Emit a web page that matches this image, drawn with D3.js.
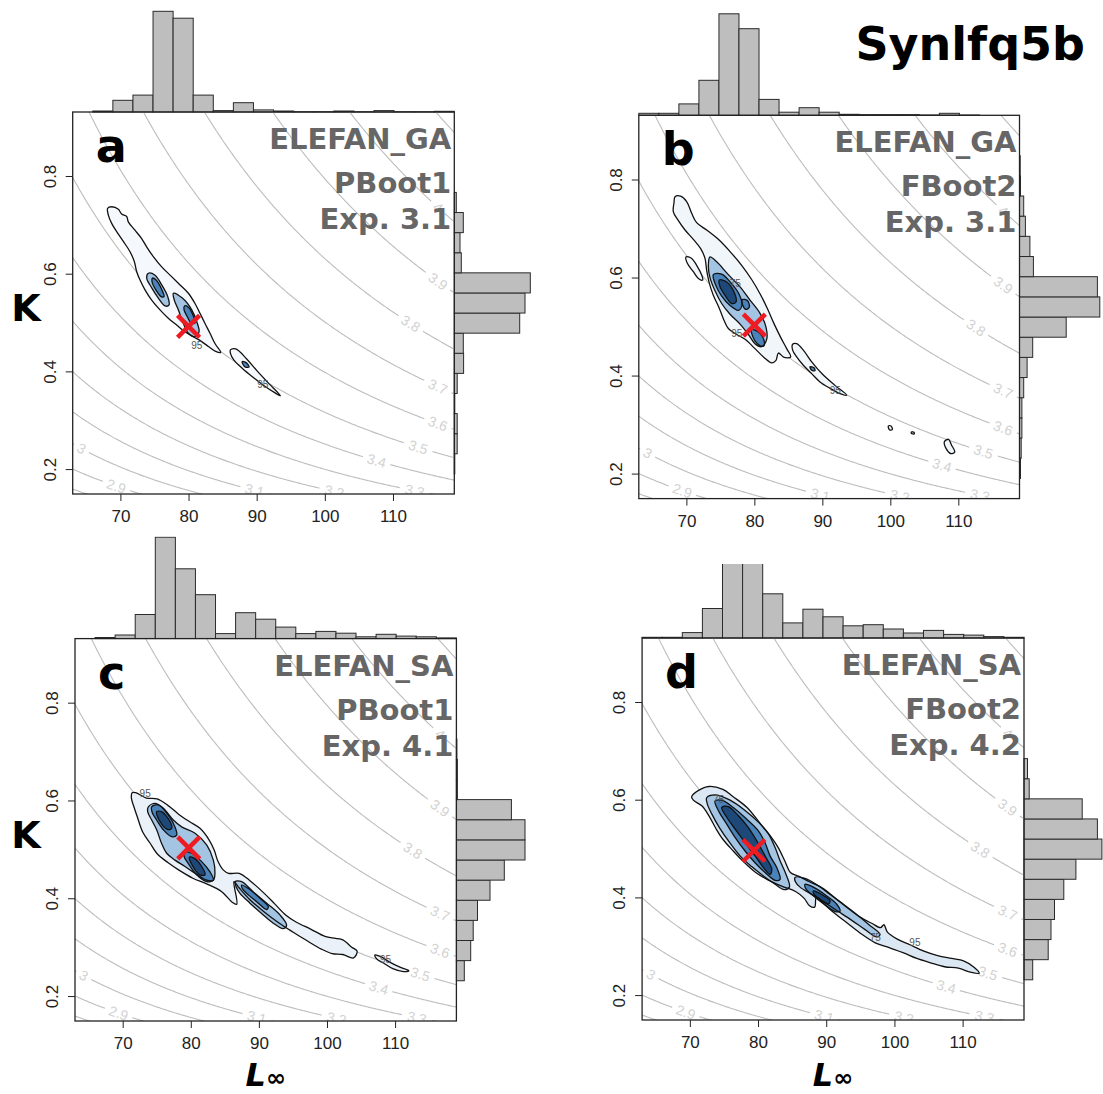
<!DOCTYPE html>
<html>
<head>
<meta charset="utf-8">
<script src="https://cdn.jsdelivr.net/npm/d3@7"></script>
<style>
  body { margin: 0; background: #fff; }
</style>
</head>
<body>
<div id="chart-area"></div>
<script>
/*
*    Synlfq5b - bootstrap Linf / K density panels
*/

// ---- data ----
var panelLetters = ["a", "b", "c", "d"];
var methods = ["ELEFAN_GA", "ELEFAN_GA", "ELEFAN_SA", "ELEFAN_SA"];
var boots = ["PBoot1", "FBoot2", "PBoot1", "FBoot2"];
var experiments = ["Exp. 3.1", "Exp. 3.1", "Exp. 4.1", "Exp. 4.2"];

var linfTicks = [70, 80, 90, 100, 110];
var kTicks = [0.2, 0.4, 0.6, 0.8];

// iso-phi' levels and where their labels sit (Linf)
var phiLevels = [2.8, 2.9, 3.0, 3.1, 3.2, 3.3, 3.4, 3.5, 3.6, 3.7, 3.8, 3.9, 4.0, 4.1];
var phiLabelLinf = [null, 69.4, 64.3, 89.7, 101.4, 113.2, 107.6, 113.7, 116.6, 116.6, 112.6, 116.6, 116.6, null];

// best estimate (red cross)
var bestLinf = [80.0, 80.0, 79.7, 79.4];
var bestK = [0.492, 0.503, 0.503, 0.496];

// marginal histograms, 19 bins over the axis ranges
var linfCounts_a = [0, 1, 11.7, 16.9, 100.7, 93.8, 16.9, 1.4, 9.3, 2.1, 1, 0.3, 0.3, 1, 0.3, 1.4, 0.3, 0.3, 0.7];
var linfCounts_b = [2, 2, 11.4, 35, 101.5, 86.6, 15.9, 3.1, 7.6, 3.1, 1, 0.7, 0.7, 0.7, 0.3, 2, 0.3, 0, 0];
var linfCounts_c = [0, 1.1, 3.6, 24.1, 101.4, 69.8, 43.9, 5, 25.9, 19.4, 11.5, 5, 7.2, 5.4, 1.8, 4.3, 2.5, 1.8, 0.7];
var linfCounts_d = [0.7, 0.7, 5.4, 29.5, 95, 92, 44.2, 15.1, 28.8, 21.2, 12.2, 13.3, 9, 5, 7.6, 3.6, 2.9, 1.4, 0.7];

// K bins from lowest to highest
var kCounts_a = [0, 0.5, 2.9, 2.9, 0.5, 2.9, 9.3, 9, 65.4, 70.7, 76, 7, 5.7, 9, 2, 0, 0, 0, 0];
var kCounts_b = [0, 1, 1.7, 2.4, 2.4, 4.2, 7.6, 13.2, 46.7, 80.3, 77.9, 13.9, 10.4, 5.9, 4.2, 1, 0.7, 0, 0];
var kCounts_c = [0, 0, 7.9, 14.3, 16.8, 21.1, 33.6, 47.9, 68.6, 68.6, 55, 1, 1, 0.5, 0, 0, 0, 0, 0];
var kCounts_d = [0, 0, 8.7, 24.2, 27, 30.5, 39.8, 51.9, 77.9, 73.4, 58.2, 5.2, 3.5, 0, 0, 0, 0, 0, 0];

// density contours: [level %, [[Linf, K], ...]]
var contours_a = [
  [95, [[68.13,0.734],[68.72,0.737],[69.70,0.732],[70.18,0.722],[70.92,0.717],[71.16,0.706],[72.14,0.689],[73.12,0.672],[73.85,0.655],[74.83,0.635],[76.06,0.614],[77.52,0.594],[78.75,0.577],[79.97,0.560],[80.95,0.539],[81.68,0.519],[82.42,0.498],[83.15,0.478],[83.88,0.457],[84.72,0.439],[83.98,0.441],[82.91,0.451],[81.93,0.461],[80.70,0.471],[79.48,0.481],[78.26,0.495],[77.03,0.509],[75.81,0.526],[74.59,0.546],[73.61,0.567],[72.88,0.587],[72.39,0.604],[72.04,0.625],[71.41,0.645],[70.43,0.666],[69.45,0.686],[68.72,0.703],[68.23,0.720]]],
  [95, [[86.15,0.444],[86.93,0.446],[88.50,0.426],[90.06,0.401],[91.66,0.377],[93.49,0.350],[92.70,0.356],[91.13,0.370],[89.56,0.387],[87.99,0.405],[86.66,0.423],[86.15,0.437]]],
  [75, [[74.10,0.601],[75.08,0.597],[76.07,0.577],[76.95,0.553],[77.14,0.536],[76.55,0.534],[75.57,0.550],[74.60,0.571],[73.86,0.591]]],
  [75, [[77.77,0.560],[79.09,0.550],[80.47,0.526],[81.20,0.502],[81.54,0.481],[80.95,0.471],[79.97,0.478],[79.24,0.498],[78.50,0.526],[77.91,0.546]]],
  [50, [[74.72,0.591],[75.24,0.587],[76.12,0.566],[76.41,0.553],[75.97,0.553],[75.24,0.566],[74.65,0.583]]],
  [50, [[79.41,0.534],[79.93,0.532],[80.66,0.515],[80.95,0.499],[80.37,0.499],[79.78,0.513],[79.34,0.526]]],
  [50, [[87.86,0.420],[88.45,0.418],[88.89,0.409],[88.30,0.409]]]
];

var contours_b = [
  [95, [[68.33,0.765],[69.16,0.766],[70.04,0.755],[70.78,0.731],[71.51,0.712],[72.98,0.697],[74.70,0.678],[76.42,0.653],[78.13,0.625],[79.60,0.596],[80.83,0.567],[81.91,0.537],[82.89,0.506],[83.87,0.478],[84.75,0.455],[85.34,0.438],[84.36,0.437],[83.53,0.446],[83.18,0.431],[82.55,0.426],[81.42,0.437],[80.09,0.455],[78.62,0.474],[77.15,0.486],[76.17,0.496],[75.53,0.513],[74.85,0.537],[73.96,0.564],[73.38,0.588],[72.98,0.615],[72.74,0.639],[72.10,0.659],[71.02,0.678],[69.80,0.697],[68.82,0.716],[68.08,0.734],[68.18,0.753]]],
  [95, [[69.94,0.642],[70.78,0.639],[71.51,0.625],[72.25,0.605],[72.40,0.595],[71.76,0.598],[71.02,0.612],[70.14,0.629]]],
  [95, [[85.63,0.464],[86.22,0.465],[87.20,0.452],[88.43,0.428],[90.14,0.401],[91.86,0.380],[93.58,0.360],[92.60,0.363],[91.13,0.374],[89.65,0.387],[88.43,0.404],[87.20,0.421],[86.22,0.438],[85.63,0.452]]],
  [95, [[99.7,0.297],[100.1,0.297],[100.3,0.290],[99.9,0.289]]],
  [95, [[103.1,0.285],[103.5,0.284],[103.5,0.281],[103.1,0.282]]],
  [95, [[107.95,0.265],[108.56,0.270],[108.97,0.259],[109.47,0.244],[108.87,0.241],[108.21,0.251]]],
  [75, [[73.47,0.642],[74.46,0.632],[76.17,0.606],[77.89,0.581],[79.36,0.554],[80.83,0.527],[81.71,0.499],[81.81,0.474],[81.07,0.459],[80.09,0.465],[79.11,0.484],[77.89,0.505],[76.42,0.525],[75.19,0.547],[74.21,0.573],[73.47,0.600],[73.23,0.623]]],
  [50, [[73.96,0.606],[75.19,0.607],[76.56,0.589],[77.79,0.565],[78.18,0.544],[77.64,0.533],[76.42,0.543],[75.19,0.562],[74.36,0.583]]],
  [50, [[78.23,0.555],[78.97,0.553],[79.26,0.540],[78.77,0.535],[78.28,0.544]]],
  [50, [[79.60,0.494],[80.58,0.489],[81.42,0.472],[81.32,0.460],[80.44,0.465],[79.75,0.480]]],
  [50, [[88.18,0.418],[88.77,0.416],[88.92,0.410],[88.43,0.411]]],
  [25, [[74.85,0.595],[75.93,0.591],[77.00,0.571],[77.30,0.550],[76.66,0.547],[75.68,0.564],[74.95,0.581]]]
];

var contours_c = [
  [95, [[71.39,0.616],[71.91,0.616],[73.49,0.605],[75.06,0.603],[76.63,0.590],[78.21,0.572],[79.78,0.557],[81.35,0.543],[82.66,0.520],[83.45,0.498],[83.97,0.476],[84.76,0.458],[85.55,0.451],[87.12,0.451],[88.69,0.436],[90.79,0.410],[92.36,0.388],[93.93,0.366],[95.51,0.351],[97.60,0.337],[99.70,0.322],[101.27,0.318],[102.32,0.315],[103.63,0.300],[104.42,0.292],[103.90,0.278],[102.32,0.285],[100.75,0.287],[99.18,0.296],[97.08,0.313],[94.98,0.331],[92.89,0.350],[90.79,0.372],[88.69,0.397],[87.12,0.421],[86.33,0.434],[86.75,0.388],[86.07,0.392],[84.50,0.414],[82.40,0.429],[80.30,0.441],[78.21,0.458],[76.63,0.473],[75.06,0.491],[74.01,0.513],[72.96,0.535],[72.18,0.565],[71.65,0.587],[71.28,0.605]]],
  [95, [[107.04,0.284],[107.83,0.281],[109.14,0.270],[110.71,0.259],[112.02,0.252],[111.24,0.250],[109.66,0.256],[108.35,0.267],[107.30,0.276]]],
  [75, [[73.77,0.587],[74.75,0.594],[75.97,0.584],[77.44,0.560],[78.66,0.546],[80.62,0.533],[82.33,0.509],[83.31,0.478],[83.55,0.451],[83.31,0.437],[82.33,0.437],[80.62,0.451],[79.15,0.465],[77.68,0.478],[76.46,0.492],[75.72,0.512],[74.99,0.540],[74.26,0.560],[73.67,0.577]]],
  [75, [[86.49,0.434],[87.47,0.434],[89.18,0.413],[91.14,0.390],[93.09,0.366],[94.07,0.345],[93.58,0.338],[92.12,0.349],[90.40,0.369],[88.69,0.390],[87.22,0.410],[86.64,0.424]]],
  [50, [[74.26,0.587],[75.23,0.591],[76.70,0.570],[77.68,0.546],[77.93,0.529],[77.19,0.526],[75.97,0.540],[74.99,0.560],[74.35,0.575]]],
  [50, [[79.15,0.495],[80.13,0.492],[81.60,0.475],[82.82,0.454],[83.31,0.437],[82.33,0.434],[80.86,0.448],[79.64,0.471],[79.00,0.486]]],
  [50, [[87.47,0.427],[88.45,0.420],[90.16,0.400],[91.38,0.383],[91.14,0.377],[89.67,0.393],[88.20,0.410],[87.57,0.420]]],
  [25, [[74.99,0.577],[75.72,0.577],[76.95,0.557],[77.19,0.543],[76.56,0.541],[75.48,0.557]]],
  [25, [[79.79,0.484],[80.47,0.482],[81.60,0.465],[82.09,0.448],[81.35,0.448],[80.27,0.466]]]
];

var contours_d = [
  [95, [[70.26,0.606],[71.28,0.619],[72.80,0.627],[74.84,0.621],[76.36,0.606],[78.39,0.584],[80.17,0.554],[81.69,0.528],[82.96,0.502],[83.98,0.473],[84.74,0.451],[86.01,0.443],[87.54,0.432],[89.57,0.418],[91.60,0.395],[93.63,0.373],[95.16,0.358],[96.68,0.347],[97.95,0.338],[98.46,0.344],[98.97,0.329],[100.49,0.314],[102.27,0.303],[104.30,0.290],[106.33,0.281],[108.36,0.275],[110.14,0.270],[111.67,0.257],[112.43,0.245],[111.16,0.247],[109.38,0.255],[107.35,0.258],[105.32,0.266],[103.28,0.275],[101.25,0.287],[99.22,0.297],[97.19,0.307],[95.16,0.325],[93.12,0.347],[91.09,0.369],[89.57,0.388],[88.55,0.400],[88.30,0.380],[87.54,0.383],[86.77,0.398],[85.50,0.412],[83.47,0.423],[81.44,0.436],[79.66,0.451],[77.88,0.473],[76.36,0.495],[74.84,0.519],[73.82,0.541],[72.80,0.567],[71.79,0.587],[70.52,0.599]]],
  [75, [[72.47,0.604],[73.69,0.610],[75.90,0.599],[78.10,0.578],[80.05,0.554],[81.52,0.530],[82.50,0.502],[83.23,0.475],[84.11,0.447],[84.60,0.421],[83.82,0.416],[82.50,0.427],[80.79,0.444],[79.07,0.463],[77.36,0.485],[75.80,0.513],[74.33,0.543],[73.21,0.571],[72.57,0.591]]],
  [75, [[85.43,0.441],[86.90,0.439],[88.61,0.426],[90.57,0.406],[92.52,0.386],[94.48,0.365],[96.19,0.345],[97.90,0.324],[97.41,0.319],[95.70,0.334],[93.74,0.353],[91.79,0.371],[89.83,0.389],[87.88,0.406],[86.16,0.421],[85.48,0.432]]],
  [50, [[73.69,0.597],[74.67,0.599],[76.38,0.584],[78.34,0.560],[80.05,0.536],[81.03,0.512],[81.76,0.485],[82.74,0.461],[83.23,0.437],[82.50,0.435],[81.03,0.451],[79.56,0.471],[78.10,0.495],[76.63,0.523],[75.41,0.550],[74.33,0.574]]],
  [50, [[86.90,0.427],[88.12,0.421],[90.08,0.403],[91.54,0.386],[92.03,0.372],[91.30,0.371],[89.59,0.387],[87.88,0.406],[87.04,0.417]]],
  [25, [[74.67,0.584],[75.65,0.586],[77.12,0.567],[78.58,0.543],[79.81,0.516],[81.03,0.485],[82.01,0.458],[81.76,0.447],[80.79,0.461],[79.56,0.485],[78.10,0.512],[76.63,0.540],[75.41,0.564]]],
  [25, [[88.12,0.413],[89.34,0.406],[90.57,0.393],[90.32,0.387],[89.10,0.396],[88.22,0.406]]]
];

// contour level labels: [text, Linf, K]
var clabels_a = [["95", 81.2, 0.454], ["95", 90.9, 0.373]];
var clabels_b = [["95", 77.4, 0.486], ["95", 91.9, 0.370], ["75", 77.2, 0.588]];
var clabels_c = [["95", 73.3, 0.615], ["95", 108.6, 0.274]];
var clabels_d = [["95", 103.0, 0.307], ["75", 97.2, 0.317], ["75", 74.2, 0.600]];

// ---- layout ----
var width = 1103;
var height = 1094;
var LINF_DOMAIN = [63, 119];
var K_DOMAIN = [0.149, 0.931];
var N_BINS = 19;

var boxes = [
  {x: 72.7,  y: 112,   w: 381.6, h: 382,   histClip: 112},
  {x: 638.8, y: 115.3, w: 380.7, h: 383.3, histClip: 115},
  {x: 75,    y: 638.6, w: 381.4, h: 382.4, histClip: 102},
  {x: 642.1, y: 638,   w: 381.9, h: 382,   histClip: 74}
];

var linfCounts = [linfCounts_a, linfCounts_b, linfCounts_c, linfCounts_d];
var kCounts = [kCounts_a, kCounts_b, kCounts_c, kCounts_d];
var contours = [contours_a, contours_b, contours_c, contours_d];
var clabels = [clabels_a, clabels_b, clabels_c, clabels_d];

var outerFill = ["#f5f8fc", "#f1f6fb", "#eaf1f9", "#dbe8f4"];
var levelFill = {75: "#a3c4e3", 50: "#4a82ba", 25: "#1d4877"};

var fontBold = "'DejaVu Sans', 'Liberation Sans', sans-serif";
var fontAxis = "'Liberation Sans', Arial, Helvetica, sans-serif";

var svg = d3.select("#chart-area")
  .append("svg")
  .attr("width", width)
  .attr("height", height);

svg.append("rect").attr("width", width).attr("height", height).attr("fill", "#fff");

var countScale = d3.scaleLinear().domain([0, 100]).range([0, 100]);

panelLetters.forEach((letter, i) => {
  var b = boxes[i];
  var g = svg.append("g")
    .attr("transform", "translate(" + b.x + ", " + b.y + ")");

  var x = d3.scaleLinear().domain(LINF_DOMAIN).range([0, b.w]);
  var y = d3.scaleLinear().domain(K_DOMAIN).range([b.h, 0]);

  var defs = g.append("defs");
  defs.append("clipPath").attr("id", "plot-" + letter)
    .append("rect").attr("width", b.w).attr("height", b.h);
  defs.append("clipPath").attr("id", "hist-" + letter)
    .append("rect").attr("x", -2).attr("y", -b.histClip).attr("width", b.w + 4).attr("height", b.histClip + 1);

  // top histogram (Linf)
  var binW = (LINF_DOMAIN[1] - LINF_DOMAIN[0]) / N_BINS;
  g.append("g")
    .attr("clip-path", "url(#hist-" + letter + ")")
    .selectAll("rect")
    .data(linfCounts[i])
    .enter()
    .append("rect")
      .attr("x", (d, k) => x(LINF_DOMAIN[0] + k * binW))
      .attr("width", (d, k) => x(LINF_DOMAIN[0] + (k + 1) * binW) - x(LINF_DOMAIN[0] + k * binW))
      .attr("y", (d) => -countScale(d))
      .attr("height", (d) => countScale(d))
      .attr("fill", "#bebebe")
      .attr("stroke", "#2a2a2a")
      .attr("stroke-width", 1);

  // right histogram (K)
  var kBinW = (K_DOMAIN[1] - K_DOMAIN[0]) / N_BINS;
  g.append("g")
    .selectAll("rect")
    .data(kCounts[i])
    .enter()
    .append("rect")
      .attr("x", b.w)
      .attr("y", (d, k) => y(K_DOMAIN[0] + (k + 1) * kBinW))
      .attr("height", (d, k) => y(K_DOMAIN[0] + k * kBinW) - y(K_DOMAIN[0] + (k + 1) * kBinW))
      .attr("width", (d) => countScale(d))
      .attr("fill", "#bebebe")
      .attr("stroke", "#2a2a2a")
      .attr("stroke-width", 1);

  var plot = g.append("g").attr("clip-path", "url(#plot-" + letter + ")");

  // iso growth performance lines: phi' = log10(K) + 2 log10(Linf)
  var grid = d3.range(LINF_DOMAIN[0] - 1, LINF_DOMAIN[1] + 1.01, 0.2);
  phiLevels.forEach((phi, j) => {
    var kOf = (L) => Math.pow(10, phi) / (L * L);
    var labL = phiLabelLinf[j];
    var lx = null, ly = null;
    if (labL !== null) {
      lx = x(labL);
      ly = y(kOf(labL));
    }
    var gap = String(+phi.toFixed(1)).length > 1 ? 14 : 8;
    var line = d3.line()
      .x((L) => x(L))
      .y((L) => y(kOf(L)))
      .defined((L) => lx === null || Math.hypot(x(L) - lx, y(kOf(L)) - ly) > gap);
    plot.append("path")
      .attr("d", line(grid))
      .attr("fill", "none")
      .attr("stroke", "#bdbdbd")
      .attr("stroke-width", 1.1);
    if (labL !== null) {
      var ang = Math.atan2(y(kOf(labL + 0.5)) - y(kOf(labL - 0.5)), x(labL + 0.5) - x(labL - 0.5)) * 180 / Math.PI;
      plot.append("text")
        .attr("transform", "translate(" + lx + "," + ly + ") rotate(" + ang + ")")
        .attr("text-anchor", "middle")
        .attr("dy", "0.35em")
        .attr("font-family", fontAxis)
        .attr("font-size", "14px")
        .attr("fill", "#d2d2d2")
        .text(String(+phi.toFixed(1)));
    }
  });

  // density regions
  var blob = d3.line()
    .x((d) => x(d[0]))
    .y((d) => y(d[1]))
    .curve(d3.curveCatmullRomClosed.alpha(0.5));

  [95, 75, 50, 25].forEach((lev) => {
    contours[i].filter((c) => c[0] === lev).forEach((c) => {
      plot.append("path")
        .attr("d", blob(c[1]))
        .attr("fill", lev === 95 ? outerFill[i] : levelFill[lev])
        .attr("stroke", "none");
    });
  });
  contours[i].forEach((c) => {
    plot.append("path")
      .attr("d", blob(c[1]))
      .attr("fill", "none")
      .attr("stroke", "#111")
      .attr("stroke-width", 1.3);
  });

  clabels[i].forEach((c) => {
    plot.append("text")
      .attr("x", x(c[1]))
      .attr("y", y(c[2]))
      .attr("text-anchor", "middle")
      .attr("dy", "0.35em")
      .attr("font-family", fontAxis)
      .attr("font-size", "10px")
      .attr("fill", "#555")
      .text(c[0]);
  });

  // red cross
  var cx = x(bestLinf[i]), cy = y(bestK[i]), r = 11;
  [[-1, -1, 1, 1], [-1, 1, 1, -1]].forEach((s) => {
    plot.append("line")
      .attr("x1", cx + s[0] * r).attr("y1", cy + s[1] * r)
      .attr("x2", cx + s[2] * r).attr("y2", cy + s[3] * r)
      .attr("stroke", "#ee1c22")
      .attr("stroke-width", 4.5);
  });

  // frame
  g.append("rect")
    .attr("width", b.w)
    .attr("height", b.h)
    .attr("fill", "none")
    .attr("stroke", "#222")
    .attr("stroke-width", 1.3);

  // axes
  var bottomAxis = d3.axisBottom(x).tickValues(linfTicks).tickSize(7).tickPadding(9);
  var xa = g.append("g")
    .attr("transform", "translate(0, " + b.h + ")")
    .call(bottomAxis);
  xa.select(".domain").remove();
  xa.attr("font-size", 17).attr("font-family", fontAxis).attr("color", "#222");

  var leftAxis = d3.axisLeft(y).tickValues(kTicks).tickSize(7).tickFormat(d3.format(".1f"));
  var ya = g.append("g").call(leftAxis);
  ya.select(".domain").remove();
  ya.attr("font-size", 17).attr("font-family", fontAxis).attr("color", "#222");
  ya.selectAll("text")
    .attr("transform", "rotate(-90)")
    .attr("x", 0)
    .attr("y", -17)
    .attr("dy", 0)
    .attr("text-anchor", "middle");

  // panel letter
  g.append("text")
    .attr("x", 23)
    .attr("y", 50)
    .attr("font-family", fontBold)
    .attr("font-weight", "bold")
    .attr("font-size", "46px")
    .attr("fill", "#000")
    .text(letter);

  // method / bootstrap / experiment
  [methods[i], boots[i], experiments[i]].forEach((t, k) => {
    g.append("text")
      .attr("x", b.w - 3)
      .attr("y", [37, 81, 117][k])
      .attr("text-anchor", "end")
      .attr("font-family", fontBold)
      .attr("font-weight", "bold")
      .attr("font-size", "29px")
      .attr("fill", "#666")
      .text(t);
  });

  // axis titles
  if (i % 2 === 0) {
    svg.append("text")
      .attr("x", 26)
      .attr("y", b.y + b.h / 2 + 18)
      .attr("text-anchor", "middle")
      .attr("font-family", fontBold)
      .attr("font-weight", "bold")
      .attr("font-size", "38px")
      .text("K");
  }
  if (i >= 2) {
    var lt = svg.append("text")
      .attr("x", b.x + b.w / 2)
      .attr("y", 1086)
      .attr("text-anchor", "middle")
      .attr("font-family", fontBold)
      .attr("font-weight", "bold")
      .attr("font-style", "italic");
    lt.append("tspan").attr("font-size", "32px").text("L");
    lt.append("tspan").attr("font-size", "24px").text("\u221e");
  }
});

// title
svg.append("text")
  .attr("x", 1085)
  .attr("y", 60)
  .attr("text-anchor", "end")
  .attr("font-family", fontBold)
  .attr("font-weight", "bold")
  .attr("font-size", "46px")
  .attr("fill", "#000")
  .text("Synlfq5b");
</script>
</body>
</html>
